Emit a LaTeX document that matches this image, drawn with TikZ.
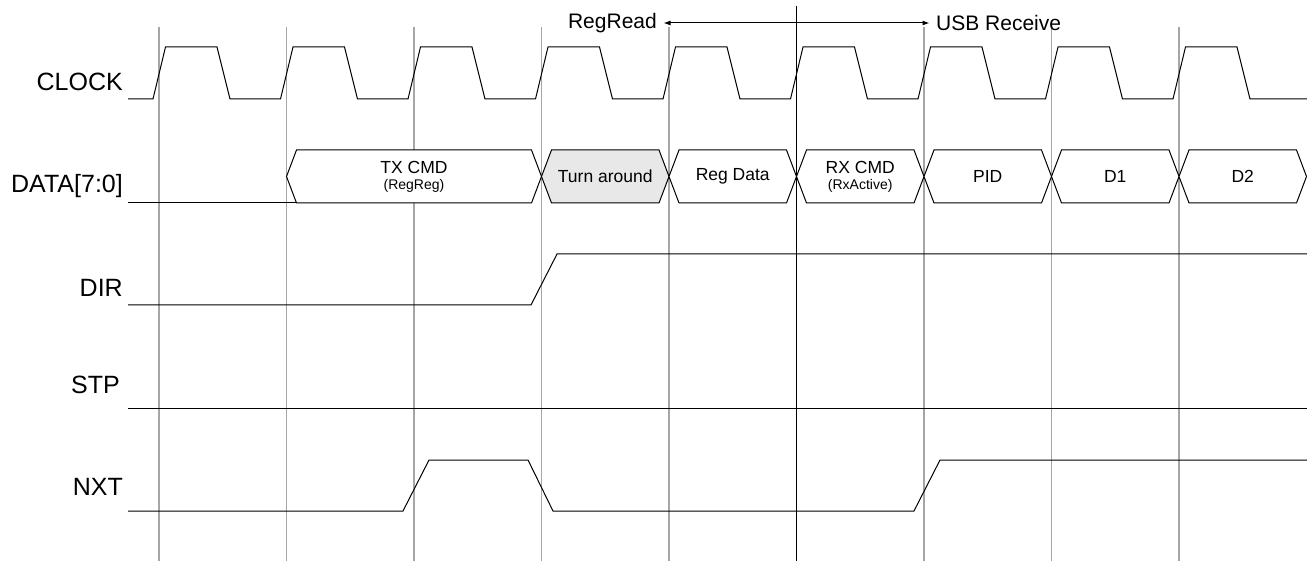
\documentclass[tikz,border=0pt]{standalone}
\usepackage{fontspec}
\setmainfont{Liberation Sans}
\usetikzlibrary{arrows.meta}
\tikzset{
  sig/.style={draw=black, line width=1pt, line join=miter},
  grid/.style={draw=black!35, line width=1.3pt},
  marker/.style={draw=black, line width=1.2pt},
  siglabel/.style={inner sep=0pt, anchor=base east, font=\fontsize{25}{30}\selectfont},
  toplabel/.style={inner sep=6.5pt, font=\fontsize{21}{25}\selectfont},
  bustext/.style={inner sep=0pt, font=\fontsize{17.5}{21}\selectfont},
  bussub/.style={inner sep=0pt, font=\fontsize{14}{17}\selectfont},
  busbox/.style={draw=black, line width=1pt, line join=miter},
}
\newcommand{\busseg}[3]{%
  \filldraw[busbox, fill=#3] (#1,176.5) -- ({#1+10},150) -- ({#2-10},150) -- (#2,176.5) -- ({#2-10},203) -- ({#1+10},203) -- cycle;}
\begin{document}
\begin{tikzpicture}[x=1pt, y=-1pt]
\useasboundingbox (0,0) rectangle (1307,561);
% grid lines
\foreach \k in {0,1,2,3,4,6,7,8} {
  \draw[grid] ({159+127.5*\k},27) -- ({159+127.5*\k},561);
}
\draw[marker] (796.5,6) -- (796.5,561);
% top annotation
\node[toplabel, anchor=east] (regread) at (663.5,23) {RegRead};
\node[toplabel, anchor=west] (usbrx) at (929.5,23) {USB Receive};
\draw[line width=1pt, {Latex[length=7pt,width=5pt]}-{Latex[length=7pt,width=5pt]}] (regread.east) -- (usbrx.west);
% labels
\node[siglabel] (lclk) at (123,91) {CLOCK};
\node[siglabel] (ldata) at (123,193) {DATA[7:0]};
\node[siglabel] (ldir) at (123,297) {DIR};
\node[siglabel] (lstp) at (120,393) {STP};
\node[siglabel] (lnxt) at (123,495) {NXT};
% clock
\draw[sig] (128,99) \foreach \k in {0,...,8} {
  -- ({159+127.5*\k-6},99) -- ({159+127.5*\k+6.5},47) -- ({159+127.5*\k+58},47) -- ({159+127.5*\k+71},99)
} -- (1307,99);
% data bus
\draw[sig] (128,203) -- (296.5,203);
\busseg{286.5}{541.5}{white}
\busseg{541.5}{669}{black!9}
\busseg{669}{796.5}{white}
\busseg{796.5}{924}{white}
\busseg{924}{1051.5}{white}
\busseg{1051.5}{1179}{white}
\busseg{1179}{1306.5}{white}
\node[bustext] (txcmd) at (414,167) {TX CMD};
\node[bussub] (txsub) at (414,186) {(RegReg)};
\node[bustext] (turn) at (605.25,176.5) {Turn around};
\node[bustext] (regdata) at (732.75,176.5) {Reg Data};
\node[bustext] (rxcmd) at (860.25,167) {RX CMD};
\node[bussub] (rxsub) at (860.25,186) {(RxActive)};
\node[bustext] (pid) at (987.75,176.5) {PID};
\node[bustext] (d1) at (1115.25,176.5) {D1};
\node[bustext] (d2) at (1242.75,176.5) {D2};
% DIR
\draw[sig] (128,305) -- (531,305) -- (557,254) -- (1307,254);
% STP
\draw[sig] (128,408) -- (1307,408);
% NXT
\draw[sig] (128,511) -- (403,511) -- (429,460) -- (528,460) -- (553,511) -- (914,511) -- (940,460) -- (1307,460);
\end{tikzpicture}
\end{document}
